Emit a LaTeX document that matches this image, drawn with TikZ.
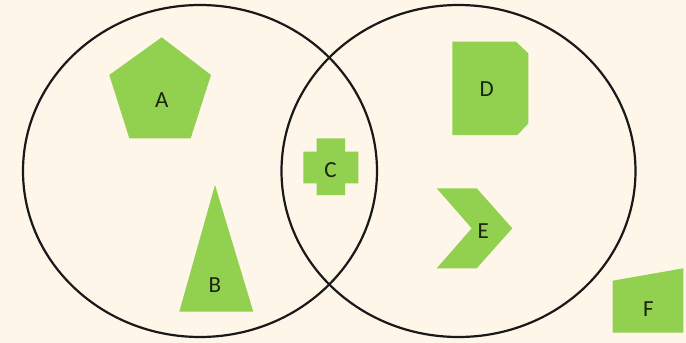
\documentclass[tikz,border=0pt]{standalone}
\usepackage{fontspec}
\setmainfont{Carlito}
\definecolor{paper}{HTML}{FDF6E9}
\definecolor{leaf}{HTML}{92D050}
\definecolor{ink}{HTML}{1A2410}
\begin{document}
\begin{tikzpicture}[x=1pt,y=-1pt,
  shapefill/.style={fill=leaf,draw=none},
  setring/.style={draw=black!90,line width=2.2pt},
  tag/.style={font=\fontsize{23}{23}\selectfont,text=ink,inner sep=0pt}]
  % page background
  \fill[paper] (0,0) rectangle (686,343);
  \useasboundingbox (0,0) rectangle (686,343);

  % the two sets
  \draw[setring] (200,171) ellipse [x radius=177, y radius=166];
  \draw[setring] (458.5,171) ellipse [x radius=177, y radius=166];

  % A: pentagon
  \fill[shapefill] (161.7,37.3) -- (211,75) -- (190.7,138.3) -- (129.3,138.3) -- (109.3,75) -- cycle;
  \node[tag] (a) at (161.7,100) {A};

  % B: tall triangle
  \fill[shapefill] (215,185) -- (253.3,311.7) -- (179.3,311.7) -- cycle;
  \node[tag] (b) at (215,285) {B};

  % C: cross in the overlap
  \fill[shapefill] (316.7,138.3) -- (345,138.3) -- (345,151.7) -- (358.3,151.7) -- (358.3,183.3)
    -- (345,183.3) -- (345,195) -- (316.7,195) -- (316.7,183.3) -- (303.3,183.3)
    -- (303.3,151.7) -- (316.7,151.7) -- cycle;
  \node[tag] (c) at (330.5,170) {C};

  % D: rectangle with clipped corners on the right
  \fill[shapefill] (452.3,41.7) -- (516,41.7) -- (528.3,53.3) -- (528.3,123.3) -- (517.5,135)
    -- (452.3,135) -- cycle;
  \node[tag] (d) at (486.7,89) {D};

  % E: chevron
  \fill[shapefill] (436.7,188.3) -- (476.7,188.3) -- (512.3,228.3) -- (476.7,268.3)
    -- (436.7,268.3) -- (471.7,228.3) -- cycle;
  \node[tag] (e) at (483.3,231) {E};

  % F: outside both sets
  \fill[shapefill] (612.7,280.7) -- (683.3,268.3) -- (683.3,332.7) -- (612.7,332.7) -- cycle;
  \node[tag] (f) at (648.3,309) {F};
\end{tikzpicture}
\end{document}
